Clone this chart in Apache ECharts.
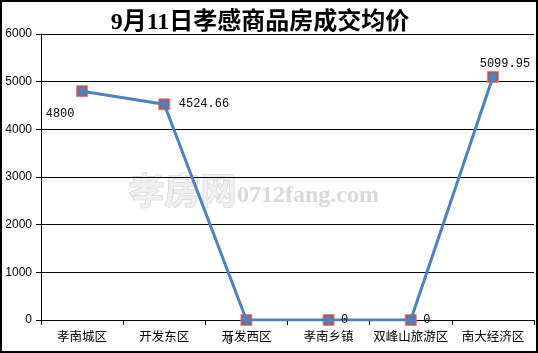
<!DOCTYPE html>
<html><head><meta charset="utf-8">
<script src="https://cdn.jsdelivr.net/npm/echarts@6/dist/echarts.min.js"></script>
<style>html,body{margin:0;padding:0;background:#fff}#c{width:538px;height:353px}</style>
</head><body><div id="c"></div>
<script>
const titleText = '9月11日孝感商品房成交均价';
const categories = ['孝南城区','开发东区','开发西区','孝南乡镇','双峰山旅游区','南大经济区'];
const prices = [4800, 4524.66, 0, 0, 0, 5099.95];
const priceLabels = ['4800','4524.66','0','0','0','5099.95'];
const yTicks = [0, 1000, 2000, 3000, 4000, 5000, 6000];

const labelPlacement = [
  {position:'bottom', offset:[-22,6]},
  {position:'right', offset:[4,0]},
  {position:'bottom', offset:[-17,4]},
  {position:'right', offset:[2,0]},
  {position:'right', offset:[2,0]},
  {position:'top', offset:[12,3]}
];

const chart = echarts.init(document.getElementById('c'));
const lineData = prices.map((v,i)=>({
  value:v,
  label:Object.assign({show:true, formatter:priceLabels[i], color:'#000', fontSize:12, fontFamily:'Liberation Mono, monospace'}, labelPlacement[i])
}));

chart.setOption({
  animation:false,
  backgroundColor:'#fff',
  title:{text:titleText, left:255, top:6, textAlign:'center',
    textStyle:{fontSize:24, fontWeight:'bold', color:'#000', fontFamily:'Liberation Serif, Noto Sans CJK SC, serif'}},
  grid:{left:41, right:4, top:34, bottom:33, containLabel:false},
  xAxis:{type:'category', data:categories, boundaryGap:true,
    axisLine:{lineStyle:{color:'#000', width:1}},
    axisTick:{show:true, length:5, interval:0, lineStyle:{color:'#000'}},
    axisLabel:{color:'#000', fontSize:12.5, margin:10, interval:0, fontFamily:'Noto Sans CJK SC, sans-serif'},
    splitLine:{show:false}},
  yAxis:{type:'value', min:yTicks[0], max:yTicks[yTicks.length-1], interval:1000,
    axisLine:{show:true, lineStyle:{color:'#000', width:1}},
    axisTick:{show:true, length:5, lineStyle:{color:'#000'}},
    axisLabel:{color:'#000', fontSize:12, margin:9, fontFamily:'Liberation Sans, sans-serif', formatter:(v)=>String(v)},
    splitLine:{show:true, lineStyle:{color:'#000', width:1}}},
  graphic:[
    {type:'text', left:128, top:172, z:0, style:{text:'孝房网', fill:'#f0f0f0', stroke:'#c8c8c8', lineWidth:1, font:'bold 36px Noto Sans CJK SC'}},
    {type:'text', left:237, top:184, z:0, style:{text:'0712fang.com', fill:'#d9d9d9', font:'bold 24px Liberation Serif'}},
    {type:'rect', shape:{x:1, y:1, width:536, height:351}, z:100, style:{fill:'none', stroke:'#000', lineWidth:2}}
  ],
  series:[
    {type:'line', data:prices, symbol:'rect', symbolSize:11, showSymbol:true,
      lineStyle:{width:0, opacity:0}, itemStyle:{color:'#C0504D', borderColor:'#D88A88', borderWidth:1}, z:2},
    {type:'line', data:lineData, symbol:'diamond', symbolSize:11,
      lineStyle:{color:'#4F81BD', width:3}, itemStyle:{color:'#4F81BD'}, z:3}
  ]
});
</script></body></html>
